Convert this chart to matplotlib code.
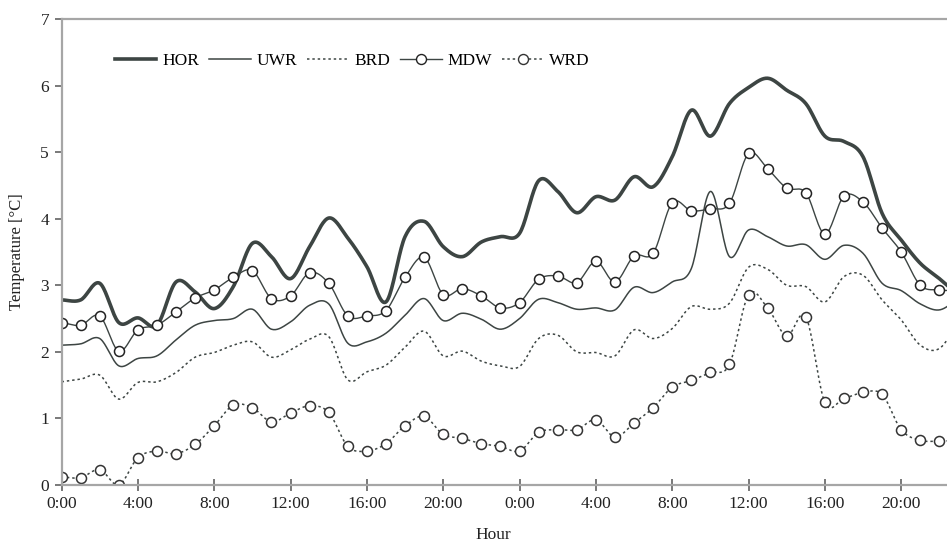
import numpy as np
import matplotlib
matplotlib.use("Agg")
import matplotlib.pyplot as plt
from matplotlib.lines import Line2D

# hourly readings, two days (last value only feeds the curve tail past the edge)
hours = list(range(48))
HOR = [2.78, 2.78, 3.03, 2.44, 2.51, 2.40, 3.05, 2.90, 2.65, 2.98, 3.63, 3.43,
       3.10, 3.58, 4.01, 3.71, 3.28, 2.75, 3.73, 3.96, 3.58, 3.43, 3.65, 3.73,
       3.78, 4.57, 4.41, 4.09, 4.33, 4.28, 4.63, 4.48, 4.93, 5.63, 5.24, 5.73,
       5.97, 6.11, 5.93, 5.73, 5.24, 5.16, 4.93, 4.08, 3.68, 3.33, 3.10, 2.85]
UWR = [2.10, 2.12, 2.20, 1.79, 1.90, 1.94, 2.18, 2.40, 2.47, 2.50, 2.64, 2.34,
       2.45, 2.70, 2.72, 2.13, 2.15, 2.28, 2.55, 2.80, 2.47, 2.58, 2.49, 2.34,
       2.50, 2.79, 2.74, 2.64, 2.66, 2.63, 2.97, 2.89, 3.05, 3.25, 4.41, 3.43,
       3.83, 3.73, 3.59, 3.61, 3.39, 3.60, 3.48, 3.03, 2.92, 2.72, 2.63, 2.80]
BRD = [1.55, 1.59, 1.65, 1.29, 1.54, 1.55, 1.69, 1.92, 1.99, 2.10, 2.15, 1.92,
       2.03, 2.19, 2.23, 1.58, 1.70, 1.80, 2.07, 2.31, 1.94, 2.01, 1.86, 1.79,
       1.78, 2.20, 2.25, 2.00, 1.99, 1.94, 2.33, 2.20, 2.35, 2.68, 2.64, 2.73,
       3.27, 3.24, 3.00, 2.98, 2.75, 3.13, 3.15, 2.78, 2.48, 2.10, 2.05, 2.45]
MDW = [2.44, 2.40, 2.54, 2.01, 2.33, 2.40, 2.60, 2.81, 2.93, 3.12, 3.22, 2.80,
       2.84, 3.19, 3.03, 2.54, 2.54, 2.62, 3.12, 3.42, 2.86, 2.95, 2.84, 2.66,
       2.74, 3.09, 3.14, 3.04, 3.36, 3.05, 3.44, 3.48, 4.24, 4.12, 4.15, 4.23,
       4.98, 4.75, 4.46, 4.39, 3.77, 4.34, 4.25, 3.86, 3.50, 3.00, 2.93, 2.92]
WRD = [0.12, 0.11, 0.23, 0.00, 0.41, 0.51, 0.47, 0.61, 0.89, 1.20, 1.16, 0.95,
       1.08, 1.19, 1.09, 0.58, 0.51, 0.62, 0.89, 1.03, 0.76, 0.70, 0.62, 0.58,
       0.51, 0.79, 0.83, 0.83, 0.98, 0.72, 0.93, 1.16, 1.47, 1.57, 1.69, 1.81,
       2.86, 2.66, 2.24, 2.53, 1.24, 1.30, 1.39, 1.36, 0.83, 0.67, 0.66, 0.67]
tick_hours = [0, 4, 8, 12, 16, 20, 24, 28, 32, 36, 40, 44]
tick_labels = ["0:00", "4:00", "8:00", "12:00", "16:00", "20:00",
               "0:00", "4:00", "8:00", "12:00", "16:00", "20:00"]


def smooth(x, y, n=20):
    # catmull-rom through the points, like a spreadsheet "smoothed line"
    x = np.asarray(x, float)
    y = np.asarray(y, float)
    px = np.concatenate([[2 * x[0] - x[1]], x, [2 * x[-1] - x[-2]]])
    py = np.concatenate([[2 * y[0] - y[1]], y, [2 * y[-1] - y[-2]]])
    t = np.linspace(0, 1, n, endpoint=False)
    xs, ys = [], []
    for i in range(1, len(px) - 2):
        for p, out in ((px, xs), (py, ys)):
            p0, p1, p2, p3 = p[i - 1], p[i], p[i + 1], p[i + 2]
            out.append(0.5 * (2 * p1 + (-p0 + p2) * t
                              + (2 * p0 - 5 * p1 + 4 * p2 - p3) * t ** 2
                              + (-p0 + 3 * p1 - 3 * p2 + p3) * t ** 3))
    xs.append([x[-1]])
    ys.append([y[-1]])
    return np.concatenate(xs), np.concatenate(ys)


plt.rcParams['font.family'] = ['Liberation Serif', 'DejaVu Serif']
col = '#3d4543'
grey = '#a6a6a6'
fs = 12.5

fig = plt.figure(figsize=(9.47, 5.49), dpi=100)
ax = fig.add_axes([0.065, 0.1166, 0.935, 0.8488])

sx, sy = smooth(hours, HOR)
ax.plot(sx, sy, color=col, lw=2.6, solid_capstyle='round')
sx, sy = smooth(hours, UWR)
ax.plot(sx, sy, color=col, lw=1.1)
sx, sy = smooth(hours, BRD)
ax.plot(sx, sy, color=col, lw=1.1, ls=(0, (1.6, 1.9)))
sx, sy = smooth(hours, MDW)
ax.plot(sx, sy, color=col, lw=1.0)
ax.plot(hours, MDW, ls='none', marker='o', ms=7.2, mfc='white', mec='#222222', mew=1.1)
sx, sy = smooth(hours, WRD)
ax.plot(sx, sy, color=col, lw=1.1, ls=(0, (1.6, 1.9)))
ax.plot(hours, WRD, ls='none', marker='o', ms=7.2, mfc='white', mec='#333333', mew=1.1)

ax.set_xlim(0, 46.4)
ax.set_ylim(0, 7)
ax.set_xticks(tick_hours)
ax.set_xticklabels(tick_labels)
ax.set_yticks(range(8))
ax.tick_params(axis='both', direction='inout', length=8, width=1.1, color='#555555',
               labelsize=fs, labelcolor='#222222', pad=4)
ax.tick_params(axis='y', direction='out', length=5)

for s in ['left', 'bottom', 'top']:
    ax.spines[s].set_color(grey)
    ax.spines[s].set_linewidth(1.6)
ax.spines['right'].set_visible(False)

ax.set_xlabel("Hour", fontsize=fs, color='#222222')
ax.xaxis.set_label_coords(0.487, -0.09)
ax.set_ylabel("Temperature [°C]", fontsize=12, color='#222222')
ax.yaxis.set_label_coords(-0.041, 0.5)

handles = [
    Line2D([], [], color=col, lw=2.6),
    Line2D([], [], color=col, lw=1.1),
    Line2D([], [], color=col, lw=1.1, ls=(0, (1.6, 1.9))),
    Line2D([], [], color=col, lw=1.0, marker='o', ms=7.2, mfc='white', mec='#222222'),
    Line2D([], [], color=col, lw=1.1, ls=(0, (1.6, 1.9)), marker='o', ms=7.2,
           mfc='white', mec='#333333'),
]
ax.legend(handles, ["HOR", "UWR", "BRD", "MDW", "WRD"], ncol=5, frameon=False,
          loc='center left', bbox_to_anchor=(0.060, 0.91), fontsize=fs,
          handlelength=2.4, handletextpad=0.35, columnspacing=0.55,
          borderaxespad=0, borderpad=0)

fig.savefig("out.png", dpi=100)
